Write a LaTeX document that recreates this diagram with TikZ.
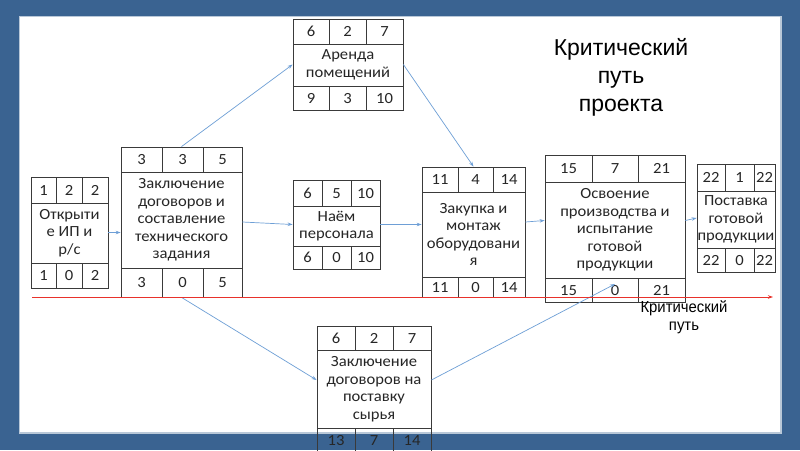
\documentclass[tikz,border=0pt]{standalone}
\usepackage{fontspec}
\setmainfont{Carlito}
\newfontfamily\boxfont[FakeStretch=1.07]{Carlito}
\newfontfamily\titlefont{Liberation Sans}
\newfontfamily\narrowfont[FakeStretch=0.93]{Liberation Sans}
\usetikzlibrary{arrows.meta,fit}
\definecolor{framebg}{HTML}{3A6391}
\definecolor{framerim}{HTML}{B9C8D8}
\definecolor{linkblue}{HTML}{6E9FD6}
\definecolor{critred}{HTML}{E8322B}
\definecolor{boxline}{HTML}{3A3A3A}

\tikzset{
  cell/.style={draw=boxline, line width=0.8pt, inner sep=0pt},
  grid/.style={draw=boxline, line width=0.8pt},
  num/.style={font=\boxfont\fontsize{15.5}{17.5}\selectfont, text=black!85, inner sep=0pt,
    text height=10pt, text depth=0pt},
  task/.style={font=\boxfont\fontsize{15.5}{17.5}\selectfont, align=center, text=black!85, inner sep=0pt},
  link/.style={draw=linkblue, line width=0.7pt, -{Stealth[length=5pt,width=3.5pt]}},
  crit/.style={draw=critred, line width=0.9pt, -{Stealth[length=5pt,width=3.5pt]}},
  title/.style={font=\titlefont\fontsize{23}{28}\selectfont, align=center, inner sep=0pt},
  sublabel/.style={font=\narrowfont\fontsize{16}{18}\selectfont, align=center, inner sep=0pt},
}

% #1 name, #2 x1, #3 y1, #4 x2, #5 y2, #6 col1, #7 col2, #8 row1, #9 row2
\newcommand\tbox[9]{%
  \coordinate (#1-nw) at (#2,#3);
  \coordinate (#1-se) at (#4,#5);
  \node[cell, fit=(#1-nw)(#1-se)] (#1) {};
  \draw[grid] (#2,#8) -- (#4,#8) (#2,#9) -- (#4,#9)
    (#6,#3) -- (#6,#8) (#7,#3) -- (#7,#8)
    (#6,#9) -- (#6,#5) (#7,#9) -- (#7,#5);
  \coordinate (#1-t1) at ({(#2+#6)/2},{(#3+#8)/2});
  \coordinate (#1-t2) at ({(#6+#7)/2},{(#3+#8)/2});
  \coordinate (#1-t3) at ({(#7+#4)/2},{(#3+#8)/2});
  \coordinate (#1-m)  at ({(#2+#4)/2},{(#8+#9)/2});
  \coordinate (#1-b1) at ({(#2+#6)/2},{(#9+#5)/2});
  \coordinate (#1-b2) at ({(#6+#7)/2},{(#9+#5)/2});
  \coordinate (#1-b3) at ({(#7+#4)/2},{(#9+#5)/2});
}
% #1 name, #2-#4 top numbers, #5 text, #6-#8 bottom numbers
\newcommand\tfill[8]{%
  \node[num] (#1-n1) at (#1-t1) {#2};
  \node[num] (#1-n2) at (#1-t2) {#3};
  \node[num] (#1-n3) at (#1-t3) {#4};
  \node[task] (#1-txt) at (#1-m) {#5};
  \node[num] (#1-n4) at (#1-b1) {#6};
  \node[num] (#1-n5) at (#1-b2) {#7};
  \node[num] (#1-n6) at (#1-b3) {#8};
}

\begin{document}
\begin{tikzpicture}[x=1pt,y=-1pt]
\useasboundingbox (0,0) rectangle (800,450);
\clip (0,0) rectangle (800,450);
% frame
\fill[framebg] (0,0) rectangle (800,450);
\draw[framerim, line width=3pt] (20,17) rectangle (780,432);
\fill[white] (20,17) rectangle (780,432);

% boxes
\tbox{b1}{31}{177}{108}{288}{56}{82}{203}{263}
\tfill{b1}{1}{2}{2}{Открыти\\е ИП и\\р/с}{1}{0}{2}
\tbox{b2}{121}{147}{242}{297}{162}{203}{172}{268}
\tfill{b2}{3}{3}{5}{Заключение\\договоров и\\составление\\технического\\задания}{3}{0}{5}
\tbox{b3}{293}{19}{403}{110}{329}{366}{44}{86}
\tfill{b3}{6}{2}{7}{Аренда\\помещений}{9}{3}{10}
\tbox{b4}{293}{180}{380}{269}{322}{351}{206}{246}
\tfill{b4}{6}{5}{10}{Наём\\персонала}{6}{0}{10}
\tbox{b5}{422}{167}{525}{297}{458}{493}{192}{277}
\tfill{b5}{11}{4}{14}{Закупка и\\монтаж\\оборудовани\\я}{11}{0}{14}
\tbox{b6}{545}{155}{685}{302}{592}{638}{182}{278}
\tfill{b6}{15}{7}{21}{Освоение\\производства и\\испытание\\готовой\\продукции}{15}{0}{21}
\tbox{b7}{697}{164}{775}{272}{725}{754}{191}{248}
\tfill{b7}{22}{1}{22}{Поставка\\готовой\\продукции}{22}{0}{22}
\tbox{b8}{317}{326}{431}{452}{355}{393}{350}{428}
\tfill{b8}{6}{2}{7}{Заключение\\договоров на\\поставку\\сырья}{13}{7}{14}

% labels
\node[title] (ttl) at (621,77) {Критический\\путь\\проекта};
\node[sublabel] (crl) at (684,317) {Критический\\путь};

% connectors
\draw[link] (b1.east) -- (b2.west |- b1.east);
\draw[link] (b2.north) -- (b3.west);
\draw[link] (b2.east) -- (b4.west);
\draw[link] (b3.east) -- (b5.north);
\draw[link] (b4.east) -- (b5.west |- b4.east);
\draw[link] ([yshift=10pt]b5.east) -- ([yshift=8pt]b6.west);
\draw[link] ([yshift=8pt]b6.east) -- (b7.west);
\draw[link] (b2.south) -- ([yshift=9pt]b8.west);
\draw[link] ([yshift=9pt]b8.east) -- ([yshift=6pt]b6-b2);

% critical path line
\coordinate (cs) at (32,297);
\coordinate (ce) at (773,297);
\draw[crit] (cs) -- (ce);
\end{tikzpicture}
\end{document}
